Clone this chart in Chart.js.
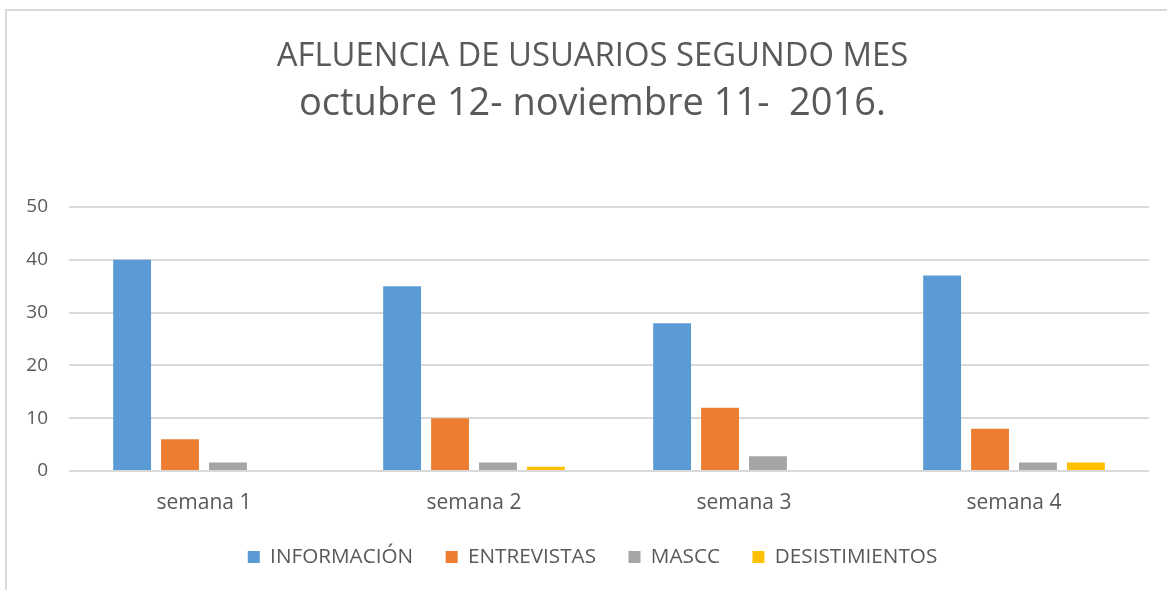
<!DOCTYPE html>
<html>
<head>
<meta charset="utf-8">
<script src="https://cdn.jsdelivr.net/npm/chart.js@4/dist/chart.umd.min.js"></script>
<style>
  html, body { margin: 0; padding: 0; background: #ffffff; overflow: hidden; }
  #frame { position: absolute; left: 5px; top: 9px; width: 1300px; height: 700px;
           border-left: 2px solid #d9d9d9; border-top: 2px solid #d9d9d9; box-sizing: border-box; }
  #wrap { position: absolute; left: 0; top: 0; width: 1167px; height: 590px; }
</style>
</head>
<body>
<div id="frame"></div>
<div id="wrap"><canvas id="c" width="1167" height="590"></canvas></div>
<script>
const categories = ['semana 1', 'semana 2', 'semana 3', 'semana 4'];
const seriesNames = ['INFORMACIÓN', 'ENTREVISTAS', 'MASCC', 'DESISTIMIENTOS'];
const informacion = [40, 35, 28, 37];
const entrevistas = [6, 10, 12, 8];
const mascc = [1.6, 1.6, 2.8, 1.6];
const desistimientos = [0, 0.8, 0, 1.6];
const yTicks = [0, 10, 20, 30, 40, 50];
const titleLine1 = 'AFLUENCIA DE USUARIOS SEGUNDO MES';
const titleLine2 = 'octubre 12- noviembre 11-  2016.';

const colors = ['#5B9BD5', '#ED7D31', '#A5A5A5', '#FFC000'];
const seriesValues = [informacion, entrevistas, mascc, desistimientos];
const textColor = '#595959';
const FONT = "'Open Sans', 'Noto Sans', sans-serif";

new Chart(document.getElementById('c'), {
  type: 'bar',
  data: {
    labels: categories,
    datasets: seriesNames.map((name, i) => ({
      label: name,
      data: seriesValues[i],
      backgroundColor: colors[i],
      borderWidth: 0,
      categoryPercentage: 0.71,
      barPercentage: 0.79,
      yAxisID: 'y'
    }))
  },
  options: {
    responsive: false,
    animation: false,
    devicePixelRatio: 1,
    layout: { padding: { left: 18, right: 0, top: 0, bottom: 12.6 } },
    plugins: {
      title: {
        display: true,
        text: titleLine1,
        color: textColor,
        font: { family: FONT, size: 32.8, weight: 'normal', lineHeight: 1.2 },
        padding: { top: 37, bottom: 5 }
      },
      subtitle: {
        display: true,
        text: titleLine2,
        color: textColor,
        font: { family: FONT, size: 38, weight: 'normal', lineHeight: 1.2 },
        padding: { top: 0, bottom: 80 }
      },
      legend: {
        position: 'bottom',
        labels: {
          color: textColor,
          font: { family: FONT, size: 20.7 },
          boxWidth: 12,
          boxHeight: 12,
          padding: 32.5
        }
      },
      tooltip: { enabled: false }
    },
    scales: {
      x: {
        afterFit: (s) => { s.height = 43.2; },
        grid: { display: false, drawTicks: false },
        border: { display: false },
        ticks: { color: textColor, font: { family: FONT, size: 21 }, padding: 19 }
      },
      y: {
        position: 'left',
        min: 0,
        max: 50,
        afterFit: (s) => { s.width = 51; },
        afterBuildTicks: (s) => { s.ticks = yTicks.map(v => ({ value: v })); },
        grid: { color: '#d9d9d9', lineWidth: 2, drawTicks: false },
        border: { display: false },
        ticks: { color: textColor, font: { family: FONT, size: 19 }, padding: 21 }
      },
      yRight: {
        position: 'right',
        display: true,
        min: 0,
        max: 50,
        afterFit: (s) => { s.width = 18; },
        grid: { display: false, drawTicks: false },
        border: { display: false },
        ticks: { display: false }
      }
    }
  }
});
</script>
</body>
</html>
